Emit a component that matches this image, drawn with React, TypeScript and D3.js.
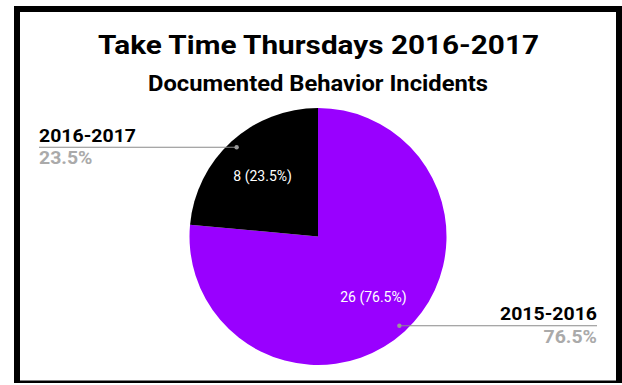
import React from "react";
import * as d3 from "d3";

const categories = ["2015-2016", "2016-2017"];
const values = [26, 8];
const colors = ["#9900ff", "#000000"];

const W = 622;
const H = 385;

export default function App() {
  const cx = 318;
  const cy = 236.5;
  const r = 128.5;
  const total = d3.sum(values);
  const pie = d3.pie<number>().sort(null).value((d) => d);
  const arcs = pie(values);
  const arc = d3.arc<d3.PieArcDatum<number>>().innerRadius(0).outerRadius(r);
  const fmt = (v: number) => d3.format(".1f")((v / total) * 100) + "%";

  const inner = d3.arc<d3.PieArcDatum<number>>().innerRadius(r * 0.64).outerRadius(r * 0.64);
  const dotArc = d3.arc<d3.PieArcDatum<number>>().innerRadius(r * 0.94).outerRadius(r * 0.94);

  const font = "Roboto, sans-serif";

  return (
    <svg width={W} height={H} style={{ position: "absolute", left: 0, top: 0, background: "#fff" }}>
      <rect x={0} y={0} width={W} height={H} fill="#fff" />
      <rect x={14} y={6} width={608} height={6} fill="#000" />
      <rect x={14} y={6} width={6} height={377} fill="#000" />
      <rect x={616} y={6} width={6} height={377} fill="#000" />
      <rect x={14} y={380.5} width={608} height={2.5} fill="#000" />
      <text x={318.5} y={53.5} textAnchor="middle" fontFamily={font} fontWeight="bold" fontSize={25.5}
        textLength={441} lengthAdjust="spacingAndGlyphs" fill="#000">
        Take Time Thursdays 2016-2017
      </text>
      <text x={318} y={90.5} textAnchor="middle" fontFamily={font} fontWeight="bold" fontSize={22}
        textLength={340} lengthAdjust="spacingAndGlyphs" fill="#000">
        Documented Behavior Incidents
      </text>
      <g transform={`translate(${cx},${cy})`}>
        {arcs.map((a, i) => (
          <path key={categories[i]} d={arc(a) || ""} fill={colors[i]} />
        ))}
        {arcs.map((a, i) => {
          const [lx, ly] = inner.centroid(a);
          return (
            <text key={"l" + i} x={lx} y={ly} textAnchor="middle" dominantBaseline="central" fontFamily={font} fontSize={14} fill="#fff">
              {`${values[i]} (${fmt(values[i])})`}
            </text>
          );
        })}
      </g>
      {arcs.map((a, i) => {
        const [dx, dy] = dotArc.centroid(a);
        const px = cx + dx;
        const py = cy + dy;
        const left = px < cx;
        const endX = left ? 39 : 597;
        const anchor = left ? "start" : "end";
        return (
          <g key={"lead" + i}>
            <line x1={px} y1={py} x2={endX} y2={py} stroke="#8a8a8a" strokeWidth={1.2} />
            <circle cx={px} cy={py} r={2.2} fill="#999" />
            <text x={endX} y={py - 5.5} textAnchor={anchor} fontFamily={font} fontWeight="bold" fontSize={18.5}
              textLength={97} lengthAdjust="spacingAndGlyphs" fill="#000">
              {categories[i]}
            </text>
            <text x={endX} y={py + 17} textAnchor={anchor} fontFamily={font} fontWeight="bold" fontSize={19}
              textLength={53.5} lengthAdjust="spacingAndGlyphs" fill="#aaaaaa">
              {fmt(values[i])}
            </text>
          </g>
        );
      })}
    </svg>
  );
}
